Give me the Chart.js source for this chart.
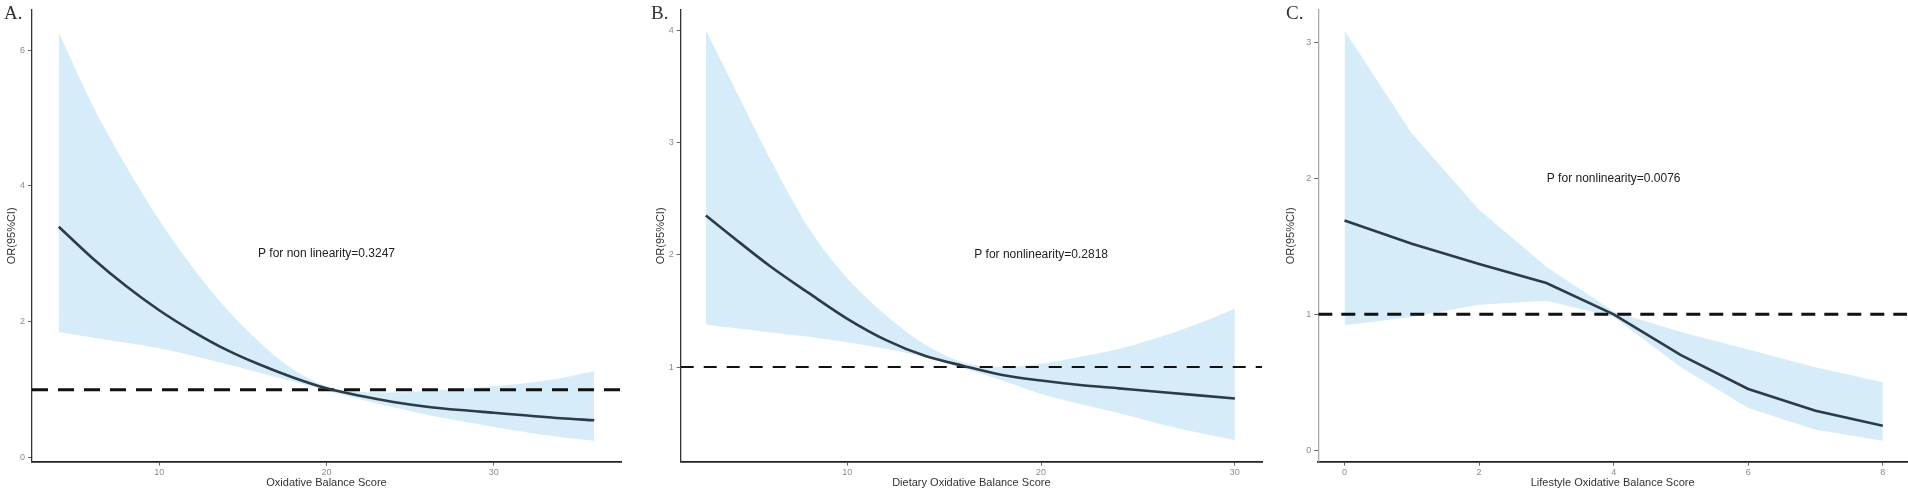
<!DOCTYPE html>
<html>
<head>
<meta charset="utf-8">
<script src="https://cdn.jsdelivr.net/npm/chart.js@4.4.1/dist/chart.umd.min.js"></script>
<style>
  html, body { margin: 0; padding: 0; background: #fff; }
  body { width: 1908px; height: 494px; position: relative; overflow: hidden; }
  .panel { position: absolute; top: 0; height: 494px; }
  .tag { position: absolute; top: 2px; font: 19px "Liberation Serif", "DejaVu Serif", serif; color: #333; }
</style>
</head>
<body>
<div class="panel" style="left:0;width:636px"><canvas id="chart-a" width="636" height="494"></canvas></div>
<div class="panel" style="left:640px;width:636px"><canvas id="chart-b" width="636" height="494"></canvas></div>
<div class="panel" style="left:1278px;width:630px"><canvas id="chart-c" width="630" height="494"></canvas></div>
<div class="tag" style="left:4px">A.</div>
<div class="tag" style="left:651px">B.</div>
<div class="tag" style="left:1286px">C.</div>
<script>
// A. Oxidative Balance Score
const scoreA = [4, 6, 8, 10, 12, 14, 16, 18, 20, 22, 24, 26, 28, 30, 32, 34, 36];
const orA    = [3.40, 2.94, 2.53, 2.17, 1.86, 1.59, 1.37, 1.18, 1.02, 0.91, 0.82, 0.75, 0.70, 0.66, 0.62, 0.58, 0.55];
const upperA = [6.26, 5.20, 4.30, 3.50, 2.80, 2.20, 1.70, 1.30, 1.05, 0.97, 0.96, 0.98, 1.01, 1.05, 1.10, 1.17, 1.27];
const lowerA = [1.85, 1.77, 1.69, 1.61, 1.50, 1.38, 1.25, 1.12, 0.99, 0.86, 0.74, 0.63, 0.54, 0.45, 0.37, 0.30, 0.25];
const xTicksA = [10, 20, 30];
const yTicksA = [0, 2, 4, 6];

// B. Dietary Oxidative Balance Score
const scoreB = [2.7, 4, 6, 8, 10, 12, 14, 16, 18, 20, 22, 24, 26, 28, 30];
const orB    = [2.35, 2.17, 1.90, 1.66, 1.43, 1.24, 1.10, 1.01, 0.93, 0.88, 0.84, 0.81, 0.78, 0.75, 0.72];
const upperB = [4.00, 3.55, 2.86, 2.24, 1.79, 1.46, 1.20, 1.04, 1.00, 1.03, 1.09, 1.16, 1.26, 1.38, 1.52];
const lowerB = [1.38, 1.35, 1.31, 1.27, 1.22, 1.16, 1.09, 0.99, 0.88, 0.76, 0.67, 0.59, 0.50, 0.42, 0.35];
const xTicksB = [10, 20, 30];
const yTicksB = [1, 2, 3, 4];

// C. Lifestyle Oxidative Balance Score
const scoreC = [0, 1, 2, 3, 4, 5, 6, 7, 8];
const orC    = [1.69, 1.52, 1.37, 1.23, 1.00, 0.70, 0.45, 0.29, 0.18];
const upperC = [3.09, 2.33, 1.77, 1.35, 1.02, 0.87, 0.74, 0.61, 0.50];
const lowerC = [0.92, 0.98, 1.07, 1.10, 0.98, 0.61, 0.31, 0.15, 0.07];
const xTicksC = [0, 2, 4, 6, 8];
const yTicksC = [0, 1, 2, 3];

const refOR = 1;

const FONT = '"Liberation Sans", Arial, sans-serif';
const RIBBON = 'rgb(214, 236, 248)';
const CURVE = '#2c3b48';

// writes the "P for nonlinearity" note at a data position
const noteText = {
    id: 'noteText',
    afterDatasetsDraw(chart, args, opts) {
        const {ctx, scales: {x, y}} = chart;
        ctx.save();
        ctx.font = '12px ' + FONT;
        ctx.fillStyle = '#222';
        ctx.textAlign = 'center';
        ctx.textBaseline = 'middle';
        ctx.fillText(opts.text, x.getPixelForValue(opts.x), y.getPixelForValue(opts.y));
        ctx.restore();
    }
};

function pts(xs, ys) {
    return xs.map((v, i) => ({x: v, y: ys[i]}));
}

function makeChart(id, p) {
    const smooth = p.smooth ? 'monotone' : 'default';
    new Chart(document.getElementById(id), {
        type: 'line',
        data: {
            datasets: [
                {
                    data: pts(p.xs, p.or), borderColor: CURVE, borderWidth: 2.6,
                    pointRadius: 0, fill: false, cubicInterpolationMode: smooth, tension: 0, order: 0
                },
                {
                    data: pts([p.xMin, p.xMax], [refOR, refOR]), borderColor: '#111',
                    borderWidth: p.dashWidth, borderDash: p.dash, pointRadius: 0, fill: false, order: 1
                },
                {
                    data: pts(p.xs, p.upper), borderWidth: 0, borderColor: 'rgba(0,0,0,0)',
                    pointRadius: 0, fill: false, cubicInterpolationMode: smooth, tension: 0, order: 3
                },
                {
                    data: pts(p.xs, p.lower), borderWidth: 0, borderColor: 'rgba(0,0,0,0)',
                    backgroundColor: RIBBON, pointRadius: 0, fill: '-1',
                    cubicInterpolationMode: smooth, tension: 0, order: 2
                }
            ]
        },
        options: {
            responsive: false,
            animation: false,
            layout: {padding: {top: 10, right: p.padRight, left: 0, bottom: 0}},
            plugins: {
                legend: {display: false},
                tooltip: {enabled: false},
                noteText: {text: p.note, x: p.noteX, y: p.noteY}
            },
            scales: {
                x: {
                    type: 'linear',
                    min: p.xMin, max: p.xMax,
                    afterBuildTicks: s => { s.ticks = p.xTicks.map(v => ({value: v})); },
                    afterFit: s => { s.height = 32.3; },
                    border: {display: true, color: '#222', width: 1.8},
                    grid: {drawOnChartArea: false, tickLength: 4, color: '#666'},
                    ticks: {font: {family: FONT, size: 9}, color: '#8c8c8c', padding: 1, maxRotation: 0},
                    title: {display: true, text: p.xTitle, color: '#333',
                            font: {family: FONT, size: 11}, padding: {top: 0, bottom: 4.4}}
                },
                y: {
                    type: 'linear',
                    min: p.yMin, max: p.yMax,
                    afterBuildTicks: s => { s.ticks = p.yTicks.map(v => ({value: v})); },
                    afterFit: s => { s.width = p.yWidth; },
                    border: {display: true, color: p.yAxisColor, width: 1.3},
                    grid: {drawOnChartArea: false, tickLength: 4, color: '#666'},
                    ticks: {font: {family: FONT, size: 9}, color: '#8c8c8c', padding: 3},
                    title: {display: true, text: 'OR(95%CI)', color: '#333',
                            font: {family: FONT, size: 11}, padding: {top: p.yTitlePad, bottom: 0}}
                }
            }
        },
        plugins: [noteText]
    });
}

makeChart('chart-a', {
    xs: scoreA, or: orA, upper: upperA, lower: lowerA, xTicks: xTicksA, yTicks: yTicksA,
    xMin: 2.4, xMax: 37.6, yMin: -0.06, yMax: 6.59, yWidth: 32, padRight: 15, yTitlePad: 5.4,
    dash: [16, 10], dashWidth: 3, smooth: true, yAxisColor: '#333',
    xTitle: 'Oxidative Balance Score', note: 'P for non linearity=0.3247', noteX: 20, noteY: 3
});

makeChart('chart-b', {
    xs: scoreB, or: orB, upper: upperB, lower: lowerB, xTicks: xTicksB, yTicks: yTicksB,
    xMin: 1.4, xMax: 31.4, yMin: 0.157, yMax: 4.18, yWidth: 40.7, padRight: 14, yTitlePad: 14,
    dash: [13, 10], dashWidth: 2, smooth: true, yAxisColor: '#333',
    xTitle: 'Dietary Oxidative Balance Score', note: 'P for nonlinearity=0.2818', noteX: 20, noteY: 2
});

makeChart('chart-c', {
    xs: scoreC, or: orC, upper: upperC, lower: lowerC, xTicks: xTicksC, yTicks: yTicksC,
    xMin: -0.39, xMax: 8.36, yMin: -0.085, yMax: 3.24, yWidth: 40.3, padRight: 1, yTitlePad: 6,
    dash: [14, 9], dashWidth: 3, smooth: false, yAxisColor: '#aaa',
    xTitle: 'Lifestyle Oxidative Balance Score', note: 'P for nonlinearity=0.0076', noteX: 4, noteY: 2
});
</script>
</body>
</html>
